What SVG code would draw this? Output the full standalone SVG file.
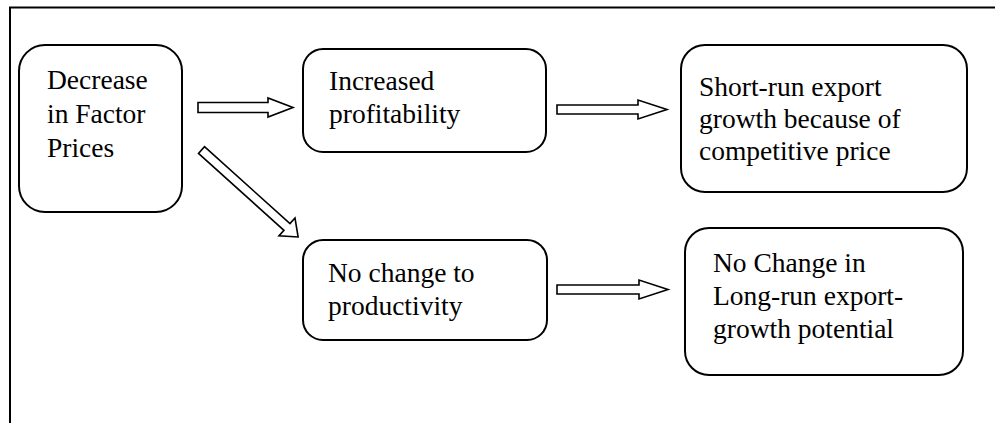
<svg xmlns="http://www.w3.org/2000/svg" width="995" height="423" viewBox="0 0 995 423">
<style>
.box{fill:#fff;stroke:#000;stroke-width:2}
.arr{fill:#fff;stroke:#000;stroke-width:1.6;stroke-linejoin:miter}
.frame{fill:none;stroke:#000;stroke-width:2}
.t{font-family:'Liberation Serif','DejaVu Serif',serif;font-size:27.5px;fill:#000}
</style>
<rect width="995" height="423" fill="#fff"/>
<path class="frame" d="M10,423 V7.5 H995"/>
<g id="n1">
<rect class="box" x="19" y="45" width="163" height="167" rx="26"/>
<text class="t" font-family="Liberation Serif" x="47" y="89">Decrease</text>
<text class="t" font-family="Liberation Serif" x="47" y="123">in Factor</text>
<text class="t" font-family="Liberation Serif" x="47" y="157">Prices</text>
</g>
<g id="n2">
<rect class="box" x="303" y="49" width="243" height="103" rx="20"/>
<text class="t" x="329" y="90">Increased</text>
<text class="t" x="329" y="123">profitability</text>
</g>
<g id="n3">
<rect class="box" x="681" y="45" width="286" height="147" rx="24"/>
<text class="t" x="699" y="96">Short-run export</text>
<text class="t" x="699" y="128">growth because of</text>
<text class="t" x="699" y="160">competitive price</text>
</g>
<g id="n4">
<rect class="box" x="303" y="240" width="244" height="100" rx="20"/>
<text class="t" x="328" y="282">No change to</text>
<text class="t" x="328" y="315">productivity</text>
</g>
<g id="n5">
<rect class="box" x="685" y="228" width="278" height="147" rx="24"/>
<text class="t" x="713" y="272">No Change in</text>
<text class="t" x="713" y="305">Long-run export-</text>
<text class="t" x="713" y="338">growth potential</text>
</g>
<g id="connectors">
<polygon class="arr" points="198,102.5 268,102.5 268,98 293,107.5 268,117 268,112.5 198,112.5"/>
<polygon class="arr" points="557,105 638,105 638,100 667,109.5 638,119 638,114 557,114"/>
<polygon class="arr" points="557,285 639,285 639,280 668,289.5 639,299 639,294 557,294"/>
<polygon class="arr" transform="translate(201.5,150) rotate(42)" points="0,-4.5 115,-4.5 115,-12 130,0 115,12 115,4.5 0,4.5"/>
</g>
</svg>
